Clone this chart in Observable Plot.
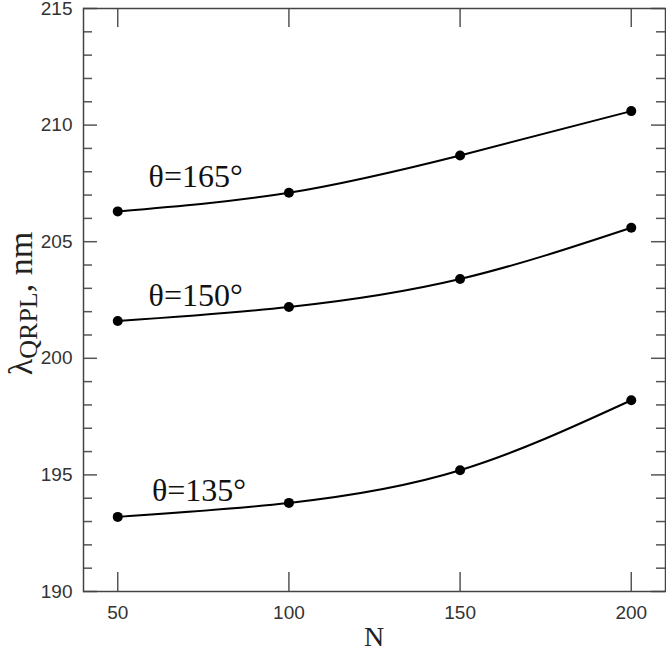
<!DOCTYPE html>
<html>
<head>
<meta charset="utf-8">
<script src="https://cdn.jsdelivr.net/npm/d3@7"></script>
<script src="https://cdn.jsdelivr.net/npm/@observablehq/plot@0.6"></script>
<style>
  html, body { margin: 0; padding: 0; background: #fff; }
  #chart { width: 666px; height: 650px; }
</style>
</head>
<body>
<div id="chart"></div>
<script>
// ---- data ----
const nValues = [50, 100, 150, 200];
const theta135 = [193.2, 193.8, 195.2, 198.2];
const theta150 = [201.6, 202.2, 203.4, 205.6];
const theta165 = [206.3, 207.1, 208.7, 210.6];
const seriesNames = ["θ=135°", "θ=150°", "θ=165°"];
const labelN = [60, 59, 59];
const labelValue = [193.9, 202.26, 207.34];
const xTicks = [50, 100, 150, 200];
const yTicks = [190, 195, 200, 205, 210, 215];
const yMinorTicks = [191,192,193,194,196,197,198,199,201,202,203,204,206,207,208,209,211,212,213,214];
const xDomain = [40, 210];
const yDomain = [190, 215];
const xTitle = "N";

// ---- table built from the arrays ----
const seriesValues = [theta135, theta150, theta165];
const rows = [];
seriesNames.forEach((name, i) => nValues.forEach((n, j) => rows.push({theta: name, N: n, v: seriesValues[i][j]})));
const labels = seriesNames.map((name, i) => ({text: name, N: labelN[i], v: labelValue[i]}));

const width = 666, height = 650;
const mL = 83, mR = 1, mT = 8, mB = 59;
const fw = width - mL - mR, fh = height - mT - mB;
const tickColor = "#555";

const svg = Plot.plot({
  width, height,
  marginLeft: mL, marginRight: mR, marginTop: mT, marginBottom: mB,
  style: {fontFamily: "'Liberation Sans', Arial, sans-serif", color: "#333", background: "#fff"},
  x: {domain: xDomain, axis: null},
  y: {domain: yDomain, axis: null},
  marks: [
    // inward ticks
    Plot.tickY(yTicks, {y: d => d, insetRight: fw - 14, stroke: tickColor, strokeWidth: 1.5}),
    Plot.tickY(yMinorTicks, {y: d => d, insetRight: fw - 9, stroke: tickColor, strokeWidth: 1.5}),
    Plot.tickY(yTicks, {y: d => d, insetLeft: fw - 14, stroke: tickColor, strokeWidth: 1.5}),
    Plot.tickY(yMinorTicks, {y: d => d, insetLeft: fw - 9, stroke: tickColor, strokeWidth: 1.5}),
    Plot.tickX(xTicks, {x: d => d, insetTop: fh - 19, stroke: tickColor, strokeWidth: 1.5}),
    Plot.tickX(xTicks, {x: d => d, insetBottom: fh - 19, stroke: tickColor, strokeWidth: 1.5}),
    Plot.frame({stroke: "#444", strokeWidth: 1.5}),
    // tick labels
    Plot.axisY({ticks: yTicks, tickSize: 0, tickPadding: 11, label: null, fontSize: 19, tickFormat: d => String(d)}),
    Plot.axisX({ticks: xTicks, tickSize: 0, tickPadding: 14, label: null, fontSize: 19, tickFormat: d => String(d)}),
    // data
    Plot.line(rows, {x: "N", y: "v", z: "theta", curve: "natural", stroke: "#000", strokeWidth: 2}),
    Plot.dot(rows, {x: "N", y: "v", r: 5, fill: "#000"}),
    Plot.text(labels, {x: "N", y: "v", text: "text", textAnchor: "start", lineAnchor: "bottom",
      fontSize: 32, fontFamily: "'Liberation Serif', 'Times New Roman', serif", fill: "#111"})
  ]
});

document.getElementById("chart").appendChild(svg);

// axis titles (real text)
const s = d3.select(svg);
s.append("text")
  .attr("x", mL + fw / 2).attr("y", 646)
  .attr("text-anchor", "middle")
  .style("font-family", "'Liberation Serif', 'Times New Roman', serif")
  .style("font-size", "28px").attr("fill", "#222")
  .text(xTitle);

const yt = s.append("text")
  .attr("transform", `translate(32,${mT + fh / 2 + 4}) rotate(-90)`)
  .attr("text-anchor", "middle")
  .style("font-family", "'Liberation Serif', 'Times New Roman', serif")
  .style("font-size", "34px").attr("fill", "#222");
yt.append("tspan").text("λ");
yt.append("tspan").style("font-size", "26px").attr("dy", 5).text("QRPL");
yt.append("tspan").attr("dy", -5).text(", nm");
</script>
</body>
</html>
